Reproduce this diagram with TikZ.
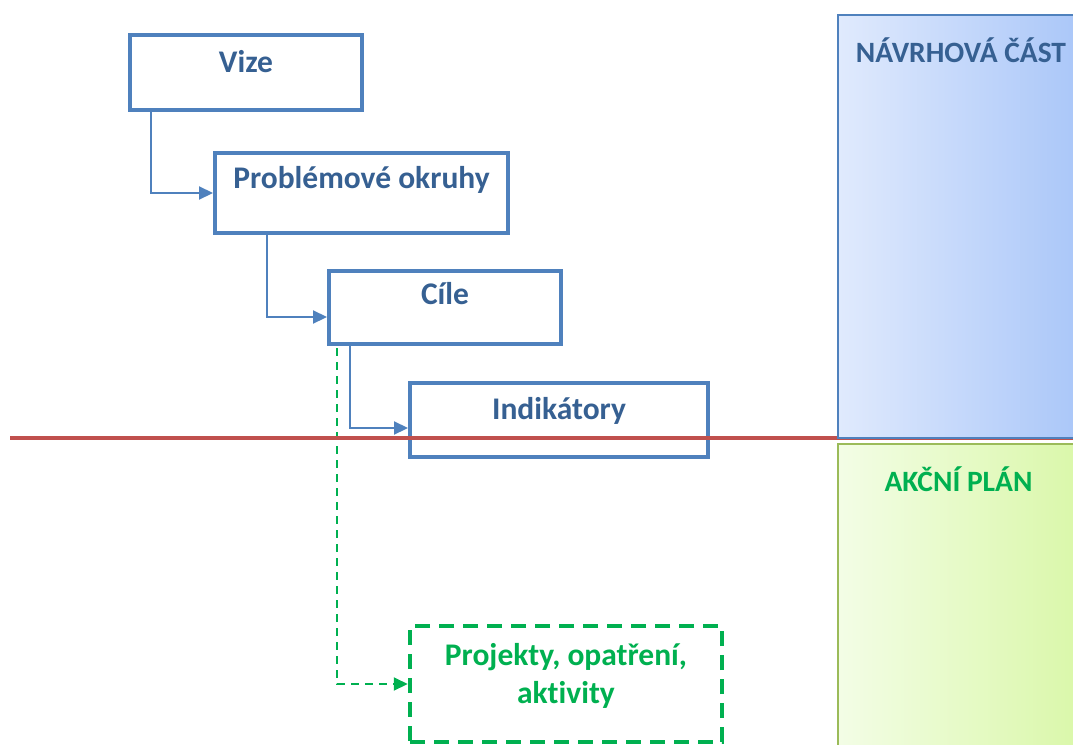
\documentclass[tikz,border=0pt]{standalone}
\usepackage{fontspec}
\setmainfont{Carlito}[Ligatures=NoCommon]
\usetikzlibrary{arrows.meta}
\definecolor{boxblue}{RGB}{79,129,189}
\definecolor{txtblue}{RGB}{54,96,146}
\definecolor{linered}{RGB}{192,80,77}
\definecolor{grn}{RGB}{0,176,80}
\definecolor{grnborder}{RGB}{155,187,89}
\definecolor{bluel}{RGB}{224,234,253}
\definecolor{bluer}{RGB}{166,196,248}
\definecolor{greenl}{RGB}{243,253,230}
\definecolor{greenr}{RGB}{216,247,165}
\tikzset{
  stepbox/.style={draw=boxblue, line width=4pt, rectangle, inner sep=0pt, fill=white},
  lbl/.style={font=\fontsize{31.5}{36}\selectfont\bfseries, text=txtblue, anchor=base, inner sep=0pt},
  conn/.style={draw=boxblue, line width=2.2pt, -{Triangle[length=14pt,width=13pt]}},
  gconn/.style={draw=grn, line width=2pt, dash pattern=on 8pt off 6pt, -{Triangle[length=14pt,width=13pt]}},
  gbox/.style={draw=grn, line width=4.5pt, dash pattern=on 15pt off 9pt, rectangle, inner sep=0pt},
  glbl/.style={font=\fontsize{31.5}{38}\selectfont\bfseries, text=grn, align=center, inner sep=0pt},
  sidelbl/.style={font=\fontsize{29.5}{34}\selectfont\bfseries, anchor=base, inner sep=0pt},
}
\begin{document}
\begin{tikzpicture}[x=1pt,y=-1pt]
\useasboundingbox (0,0) rectangle (1073,744);
\clip (0,0) rectangle (1073,744);
% boxes
\node[stepbox, minimum width=232pt, minimum height=75pt] (vize) at (246,72.5) {};
\node[stepbox, minimum width=293pt, minimum height=80pt] (prob) at (361.5,193) {};
\node[stepbox, minimum width=232pt, minimum height=73pt] (cile) at (445,307.5) {};
\node[stepbox, minimum width=298pt, minimum height=74pt] (indik) at (559,420) {};
\node[gbox, minimum width=312pt, minimum height=116pt] (proj) at (566,684) {};
% labels
\node[lbl] (vizet) at (246,72) {Vize};
\node[lbl] (probt) at (361.5,188) {Problémové okruhy};
\node[lbl] (cilet) at (445,304) {Cíle};
\node[lbl] (indikt) at (559,419) {Indikátory};
\node[glbl] (projt) at (566,675.5) {Projekty, opatření,\\aktivity};
% connectors
\draw[conn] ([xshift=23pt]vize.south west) |- (prob.west);
\draw[conn] ([xshift=54pt]prob.south west) |- ([yshift=-9.5pt]cile.west);
\draw[conn] ([xshift=23pt]cile.south west) |- ([yshift=-8pt]indik.west);
\draw[gconn] ([xshift=10pt,yshift=-2pt]cile.south west) |- (proj.west);
% red line
\coordinate (rl) at (10,438);
\coordinate (rr) at (1073,438);
\draw[linered, line width=3.2pt] (rl) -- (rr);
% side panels
\node[draw=boxblue, line width=2pt, left color=bluel, right color=bluer, rectangle, inner sep=0pt,
      minimum width=260pt, minimum height=423pt, anchor=north west] (navrh) at (837,14) {};
\node[draw=grnborder, line width=2pt, left color=greenl, right color=greenr, rectangle, inner sep=0pt,
      minimum width=260pt, minimum height=320pt, anchor=north west] (akce) at (837,443) {};
\node[sidelbl, text=txtblue] (navrht) at (961,62) {NÁVRHOVÁ ČÁST};
\node[sidelbl, text=grn] (akcet) at (958.5,491) {AKČNÍ PLÁN};
\end{tikzpicture}
\end{document}
